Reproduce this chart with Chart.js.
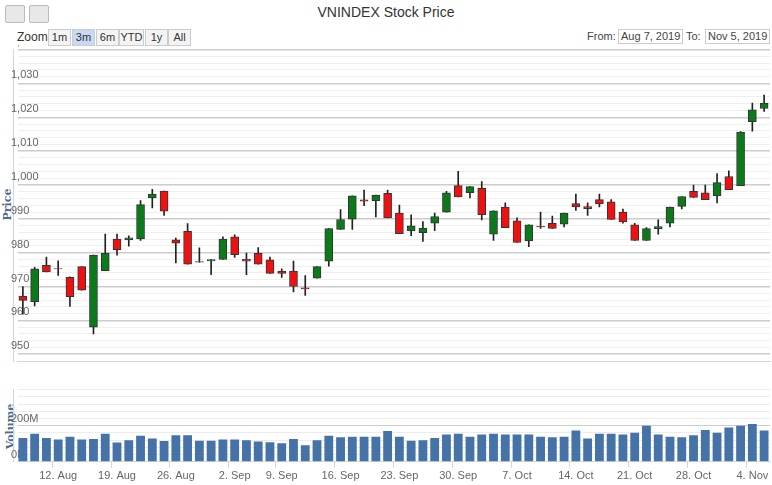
<!DOCTYPE html>
<html><head><meta charset="utf-8">
<script src="https://cdn.jsdelivr.net/npm/chart.js@4"></script>
<style>
body{margin:0;width:772px;height:485px;background:#fff;font-family:"Liberation Sans",Arial,sans-serif;position:relative;overflow:hidden}
.abs{position:absolute;white-space:nowrap}
.btn{position:absolute;top:29px;height:15px;font-size:11px;line-height:15px;text-align:center;background:#f3f3f3;border:1px solid #ccc;color:#333}
.ic{position:absolute;top:5px;width:18px;height:16px;background:#e8e8e8;border:1px solid #bbb;border-radius:2px}
.inp{position:absolute;top:29px;height:13px;font-size:11px;line-height:13px;border:1px solid #ccc;padding:0 2px;color:#444;white-space:nowrap}
.vl{position:absolute;transform:rotate(-90deg);font-family:"DejaVu Serif",serif;font-weight:bold;font-size:11px;color:#4d6a8a}
</style></head><body>
<div class="ic" style="left:5px"></div><div class="ic" style="left:29px"></div>
<div class="abs" style="left:0;width:772px;top:4px;text-align:center;font-size:14px;color:#333">VNINDEX Stock Price</div>
<div class="abs" style="left:17px;top:30px;font-size:12px;color:#333">Zoom</div>
<div class="btn" style="left:48px;width:21px">1m</div>
<div class="btn" style="left:72px;width:21px;background:#c7d9f3">3m</div>
<div class="btn" style="left:96px;width:21px">6m</div>
<div class="btn" style="left:119px;width:23px">YTD</div>
<div class="btn" style="left:145px;width:21px">1y</div>
<div class="btn" style="left:168px;width:21px">All</div>
<div class="abs" style="left:587px;top:30px;font-size:11px;color:#444">From:</div>
<div class="inp" style="left:618px">Aug 7, 2019</div>
<div class="abs" style="left:686px;top:30px;font-size:11px;color:#444">To:</div>
<div class="inp" style="left:705px">Nov 5, 2019</div>
<div class="vl" style="left:-8px;top:198px">Price</div>
<div class="vl" style="left:-12px;top:420px">Volume</div>
<div class="abs" style="left:0;top:45px;width:772px;height:322px"><canvas id="p"></canvas></div>
<div class="abs" style="left:0;top:385px;width:772px;height:100px"><canvas id="v"></canvas></div>
<script>
const dates=["2019-08-07","2019-08-08","2019-08-09","2019-08-12","2019-08-13","2019-08-14","2019-08-15","2019-08-16","2019-08-19","2019-08-20","2019-08-21","2019-08-22","2019-08-23","2019-08-26","2019-08-27","2019-08-28","2019-08-29","2019-08-30","2019-09-03","2019-09-04","2019-09-05","2019-09-06","2019-09-09","2019-09-10","2019-09-11","2019-09-12","2019-09-13","2019-09-16","2019-09-17","2019-09-18","2019-09-19","2019-09-20","2019-09-23","2019-09-24","2019-09-25","2019-09-26","2019-09-27","2019-09-30","2019-10-01","2019-10-02","2019-10-03","2019-10-04","2019-10-07","2019-10-08","2019-10-09","2019-10-10","2019-10-11","2019-10-14","2019-10-15","2019-10-16","2019-10-17","2019-10-18","2019-10-21","2019-10-22","2019-10-23","2019-10-24","2019-10-25","2019-10-28","2019-10-29","2019-10-30","2019-10-31","2019-11-01","2019-11-04","2019-11-05"];
const tickLabels={"2019-08-12":"12. Aug","2019-08-19":"19. Aug","2019-08-26":"26. Aug","2019-09-03":"2. Sep","2019-09-09":"9. Sep","2019-09-16":"16. Sep","2019-09-23":"23. Sep","2019-09-30":"30. Sep","2019-10-07":"7. Oct","2019-10-14":"14. Oct","2019-10-21":"21. Oct","2019-10-28":"28. Oct","2019-11-04":"4. Nov"};
const open=[967.2,965.5,976.3,975.3,972.7,975.9,958.0,974.7,984.0,983.8,984.1,996.2,998.2,983.8,986.3,977.2,977.6,978.0,984.7,978.1,979.8,977.9,974.6,974.6,969.6,972.5,977.5,986.9,989.9,995.6,995.4,997.5,991.7,986.4,985.9,988.7,992.0,999.8,997.7,999.0,985.5,993.5,989.4,983.5,987.8,988.7,988.4,994.5,993.6,995.7,995.0,992.0,988.2,983.6,987.1,988.7,993.7,998.1,997.7,996.8,1002.5,999.8,1018.7,1022.6];
const high=[970.0,975.7,978.7,977.6,972.9,975.9,979.3,985.5,985.5,985.0,995.4,998.7,998.2,984.3,988.6,981.4,978.0,984.7,985.3,979.9,981.5,978.7,975.2,977.5,973.2,975.9,987.1,992.7,996.8,998.5,997.0,998.5,994.1,991.2,989.2,991.7,998.1,1004.0,999.5,1001.0,992.4,994.7,990.3,988.2,992.0,990.8,991.7,997.3,994.7,997.3,995.7,992.9,988.7,987.4,989.7,993.5,996.6,1000.0,1000.0,1003.4,1004.2,1015.8,1024.2,1026.6];
const low=[961.8,964.3,974.3,973.3,964.1,968.9,956.0,974.7,979.3,981.9,983.6,993.2,991.0,977.0,976.6,977.2,973.5,978.0,978.6,973.5,976.6,973.9,972.7,968.4,967.4,972.5,976.0,986.9,986.9,993.9,990.6,990.3,985.6,985.0,983.3,986.5,992.0,996.5,996.2,989.7,983.6,987.4,983.0,981.8,987.2,987.2,987.6,992.5,991.0,993.5,989.8,988.7,983.6,983.6,985.5,987.6,992.9,996.3,995.7,994.7,998.6,999.8,1015.9,1021.7];
const close=[965.9,975.2,974.3,975.2,967.0,968.9,979.3,979.8,980.9,984.4,994.2,997.3,992.3,982.8,976.6,977.2,978.0,984.0,979.4,977.5,976.6,973.9,973.9,970.0,969.3,975.9,987.1,989.8,996.8,995.2,997.0,990.3,985.6,987.9,987.3,990.7,997.7,996.5,999.5,991.2,992.4,987.4,983.0,988.2,987.6,987.2,991.7,993.5,993.0,994.4,989.8,989.1,983.6,987.1,987.7,993.5,996.6,996.3,995.7,1000.7,998.6,1015.6,1022.2,1024.2];
const volume=[132,156,132,124,139,124,127,156,107,120,144,129,115,147,147,117,117,124,124,120,112,108,103,127,92,120,144,136,139,139,139,170,139,117,120,132,151,156,139,151,156,151,151,151,139,136,139,173,129,156,156,151,161,200,151,139,136,147,176,161,190,200,210,173];

const GRID='#ececec', MAJOR='#cccccc';
const FONT={size:11,family:'"Liberation Sans",Arial'};
const xCommon=(showLabels)=>({type:'category',offset:true,
  grid:{display:showLabels,drawOnChartArea:false,color:c=>tickLabels[dates[c.index]]?'#ccd6eb':'rgba(0,0,0,0)',tickLength:6},
  border:{display:true,color:'#ccd6eb'},
  ticks:{display:showLabels,autoSkip:false,maxRotation:0,font:FONT,color:'#666',padding:2,
    callback:(v,i)=>tickLabels[dates[i]]||''}});
new Chart(document.getElementById('p'),{type:'bar',
  data:{labels:dates,datasets:[
    {data:dates.map((d,i)=>[low[i],high[i]]),backgroundColor:'#222',barThickness:1,grouped:false,order:2},
    {data:dates.map((d,i)=>[open[i],close[i]===open[i]?close[i]+0.2:close[i]]),backgroundColor:dates.map((d,i)=>close[i]>=open[i]?'#0a7a1a':'#ee1111'),
     borderColor:'#333',borderWidth:1,borderSkipped:false,barThickness:8,grouped:false,order:1}]},
  options:{responsive:true,maintainAspectRatio:false,animation:false,layout:{padding:{left:17,right:2,top:0,bottom:0}},
    plugins:{legend:{display:false},tooltip:{enabled:false}},
    scales:{x:xCommon(false),
      y:{min:948,max:1040,position:'left',border:{display:true,color:'#ccd6eb'},
        grid:{drawTicks:false,color:c=>c.tick.value%10===0?MAJOR:'#efefef',lineWidth:c=>c.tick.value%10===0?1.5:1},
        ticks:{stepSize:2,autoSkip:false,maxTicksLimit:100,mirror:true,padding:-2,labelOffset:-8,color:'#666',font:FONT,
          callback:v=>v%10===0?v.toLocaleString('en-US'):''}}}}});
new Chart(document.getElementById('v'),{type:'bar',
  data:{labels:dates,datasets:[{data:volume,backgroundColor:'#4572a7',barPercentage:0.75,categoryPercentage:1}]},
  options:{responsive:true,maintainAspectRatio:false,animation:false,layout:{padding:{left:17,right:2,top:2,bottom:0}},
    plugins:{legend:{display:false},tooltip:{enabled:false}},
    scales:{x:xCommon(true),
      y:{min:0,max:400,border:{display:true,color:'#ccd6eb'},
        grid:{drawTicks:false,color:c=>c.tick.value===200?MAJOR:GRID},
        ticks:{stepSize:40,autoSkip:false,maxTicksLimit:100,mirror:true,padding:-2,labelOffset:-7,color:'#666',font:FONT,
          callback:v=>(v===0||v===200)?v+'M':''}}}}});
</script></body></html>
